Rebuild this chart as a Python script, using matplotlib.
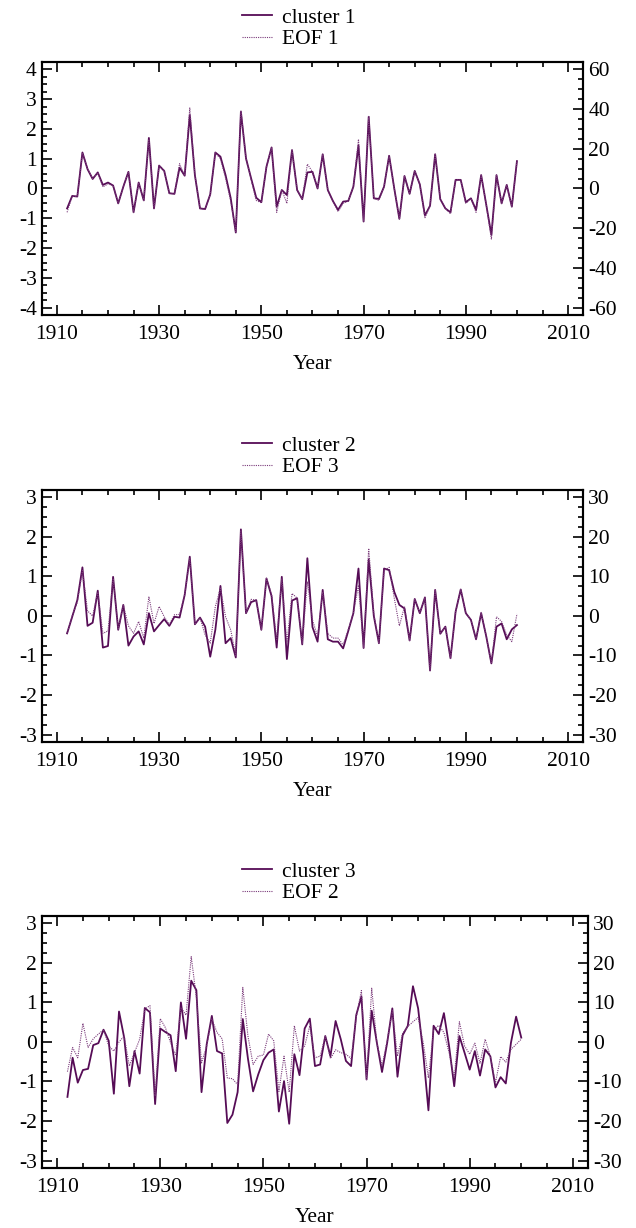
import numpy as np
import matplotlib
matplotlib.use('Agg')
import matplotlib.pyplot as plt
from matplotlib.ticker import MultipleLocator

plt.rcParams['font.family'] = ['Liberation Serif', 'DejaVu Serif']
plt.rcParams['axes.unicode_minus'] = False
plt.rcParams['font.size'] = 15.5

years = np.arange(1912, 2001)

# cluster time series (left axis) and EOF principal components (right axis)
cluster1 = [-0.67, -0.25, -0.27, 1.21, 0.65, 0.32, 0.54, 0.12, 0.20, 0.10,
            -0.50, 0.06, 0.56, -0.80, 0.20, -0.40, 1.70, -0.67, 0.77, 0.59,
            -0.16, -0.18, 0.70, 0.43, 2.47, 0.45, -0.67, -0.69, -0.20, 1.21,
            1.07, 0.45, -0.32, -1.48, 2.58, 1.01, 0.34, -0.31, -0.46, 0.73,
            1.38, -0.61, -0.05, -0.22, 1.29, -0.05, -0.36, 0.54, 0.56, 0.00,
            1.15, -0.05, -0.42, -0.72, -0.44, -0.42, 0.06, 1.45, -1.11, 2.41,
            -0.33, -0.35, 0.06, 1.10, 0.00, -1.02, 0.42, -0.18, 0.59, 0.14,
            -0.91, -0.58, 1.15, -0.36, -0.67, -0.80, 0.29, 0.29, -0.46, -0.33,
            -0.72, 0.45, -0.55, -1.56, 0.45, -0.50, 0.12, -0.61, 0.92]
eof1 = [-12.0, -3.8, -4.0, 18.0, 10.0, 5.0, 8.0, 0.8, 2.3, 1.5,
        -7.5, 1.0, 8.4, -12.0, 3.0, -6.0, 24.8, -10.0, 11.5, 9.0,
        -2.4, -2.7, 12.5, 6.5, 40.6, 6.8, -10.0, -10.5, -3.0, 18.0,
        15.0, 5.3, -6.3, -21.8, 39.3, 15.2, 4.5, -6.0, -7.2, 11.0,
        20.7, -12.0, -0.8, -7.5, 19.4, -0.8, -5.4, 12.3, 8.4, 0.0,
        17.3, -0.8, -6.3, -11.7, -7.5, -6.3, 0.9, 24.8, -16.7, 36.2,
        -5.0, -6.0, 0.9, 16.5, 0.0, -15.3, 6.3, -2.7, 8.9, 2.1,
        -14.7, -8.7, 17.3, -5.4, -10.0, -12.8, 4.4, 4.4, -7.5, -5.0,
        -12.0, 6.8, -8.3, -25.5, 6.8, -7.5, 1.8, -9.2, 13.8]

cluster2 = [-0.44, -0.02, 0.40, 1.23, -0.25, -0.17, 0.64, -0.80, -0.76, 0.99,
            -0.35, 0.28, -0.75, -0.52, -0.39, -0.72, 0.07, -0.39, -0.23, -0.08,
            -0.25, -0.02, -0.04, 0.53, 1.50, -0.21, -0.04, -0.27, -1.03, -0.35,
            0.76, -0.69, -0.56, -1.05, 2.19, 0.07, 0.35, 0.40, -0.35, 0.95,
            0.50, -0.80, 0.99, -1.09, 0.39, 0.45, -0.72, 1.46, -0.28, -0.65,
            0.66, -0.59, -0.65, -0.65, -0.82, -0.38, 0.07, 1.20, -0.81, 1.43,
            0.00, -0.69, 1.20, 1.16, 0.61, 0.28, 0.19, -0.62, 0.43, 0.07,
            0.47, -1.38, 0.66, -0.45, -0.27, -1.07, 0.11, 0.67, 0.07, -0.10,
            -0.59, 0.07, -0.52, -1.20, -0.27, -0.19, -0.59, -0.34, -0.23]
eof3 = [-4.4, 0.0, 3.5, 11.5, 1.3, 0.0, 6.0, -4.4, -3.8, 9.5,
        -3.5, 2.8, -2.5, -4.4, -1.4, -5.6, 4.9, -1.9, 2.4, -0.2,
        -2.2, 0.3, 0.4, 5.3, 14.5, -2.1, -0.4, -4.8, -6.9, 2.4,
        7.0, -0.2, -3.5, -10.0, 21.5, 0.7, 4.2, 4.0, -3.5, 9.5,
        5.5, -6.0, 9.5, -6.9, 5.7, 4.5, -7.0, 8.7, -1.0, -5.2,
        6.1, -4.4, -5.6, -5.6, -7.3, -3.5, 0.7, 7.8, -8.0, 17.1,
        0.5, -6.9, 11.5, 12.3, 4.5, -2.5, 2.4, -6.2, 4.3, 0.7,
        4.7, -13.8, 6.6, -4.5, -2.7, -10.7, 1.1, 6.7, 0.7, -1.0,
        -5.9, 0.9, -5.2, -12.0, -0.2, -1.4, -4.8, -6.5, 0.5]

cluster3 = [-1.39, -0.40, -1.03, -0.71, -0.68, -0.08, -0.03, 0.31, 0.03, -1.31,
            0.77, 0.11, -1.12, -0.23, -0.80, 0.86, 0.75, -1.57, 0.34, 0.25,
            0.17, -0.74, 1.00, 0.08, 1.55, 1.31, -1.27, -0.06, 0.66, -0.23,
            -0.29, -2.05, -1.84, -1.27, 0.58, -0.42, -1.25, -0.82, -0.46, -0.27,
            -0.19, -1.76, -0.99, -2.07, -0.31, -0.84, 0.34, 0.59, -0.61, -0.57,
            0.15, -0.36, 0.53, 0.07, -0.48, -0.61, 0.68, 1.15, -0.95, 0.79,
            -0.02, -0.76, -0.02, 0.85, -0.88, 0.17, 0.41, 1.41, 0.85, -0.30,
            -1.73, 0.41, 0.20, 0.73, -0.10, -1.12, 0.15, -0.27, -0.70, -0.23,
            -0.85, -0.19, -0.36, -1.15, -0.89, -1.05, -0.02, 0.64, 0.11]
eof2 = [-7.5, -1.4, -4.0, 4.7, -1.4, 0.8, 2.0, 3.1, -1.0, -2.3,
        0.0, 1.5, -6.1, -2.7, 0.7, 8.3, 9.2, -13.7, 5.9, 3.6,
        -0.2, -3.4, 8.7, 6.8, 21.6, 11.3, -5.3, -1.0, 5.8, 2.4,
        0.8, -9.1, -9.3, -10.8, 13.8, 1.5, -5.7, -3.6, -3.3, 2.0,
        0.3, -12.5, -3.6, -12.7, 4.1, -2.3, -1.0, 4.1, -4.0, -3.6,
        1.5, -4.2, -2.0, -2.7, -3.1, -4.2, 6.2, 13.0, -9.5, 13.6,
        -0.2, -6.1, 0.3, 7.9, -3.6, 2.2, 3.9, 5.1, 6.2, -0.2,
        -9.1, 3.1, 4.2, 2.4, -2.7, -9.1, 5.1, -1.0, -3.1, -0.3,
        -5.4, 0.7, -3.6, -10.3, -3.7, -5.1, -1.9, -0.6, 0.7]

year_ticks = [1910, 1930, 1950, 1970, 1990, 2010]

solid_color = '#560c56'
dot_color = '#7a3a7a'

fig = plt.figure(figsize=(6.36, 12.28), dpi=100)


def panel(rect, clu, eof, ymax, scale, rstep, labels, leg_x):
    ax = fig.add_axes(rect)
    ax2 = ax.twinx()
    l1, = ax.plot(years, clu, color=solid_color, lw=1.3)
    l2, = ax2.plot(years, eof, color=dot_color, lw=0.8, ls=(0, (1, 1)))
    pad = 1.0625
    ax.set_xlim(1907, 2013)
    ax.set_ylim(-ymax * pad, ymax * pad)
    ax2.set_ylim(-ymax * scale * pad, ymax * scale * pad)

    ax.set_xticks(year_ticks)
    ax.xaxis.set_minor_locator(MultipleLocator(5))
    ax.yaxis.set_major_locator(MultipleLocator(1))
    ax.yaxis.set_minor_locator(MultipleLocator(0.25))
    ax2.yaxis.set_major_locator(MultipleLocator(rstep))
    ax2.yaxis.set_minor_locator(MultipleLocator(rstep / 4))

    ax.tick_params(which='both', direction='in', top=True, width=1.2)
    ax.tick_params(which='major', length=7)
    ax.tick_params(which='minor', length=3.5)
    ax.tick_params(axis='x', pad=7)
    ax2.tick_params(which='both', direction='in', width=1.2)
    ax2.tick_params(which='major', length=7)
    ax2.tick_params(which='minor', length=3.5)
    for a in (ax, ax2):
        for s in a.spines.values():
            s.set_linewidth(1.5)

    ax.set_xlabel('Year', labelpad=8)
    ax.legend([l1, l2], labels, loc='lower center', bbox_to_anchor=(leg_x, 1.0),
              frameon=False, handlelength=1.4, handletextpad=0.45,
              labelspacing=0.05, borderpad=0.1)
    return ax, ax2


panel([0.0653, 0.7435, 0.852, 0.206], cluster1, eof1, 4, 15, 20,
      ['cluster 1', 'EOF 1'], 0.475)
panel([0.0653, 0.3958, 0.852, 0.2052], cluster2, eof3, 3, 10, 10,
      ['cluster 2', 'EOF 3'], 0.475)
panel([0.0655, 0.0489, 0.8595, 0.2052], cluster3, eof2, 3, 10, 10,
      ['cluster 3', 'EOF 2'], 0.47)

fig.savefig('out.png', dpi=100)
